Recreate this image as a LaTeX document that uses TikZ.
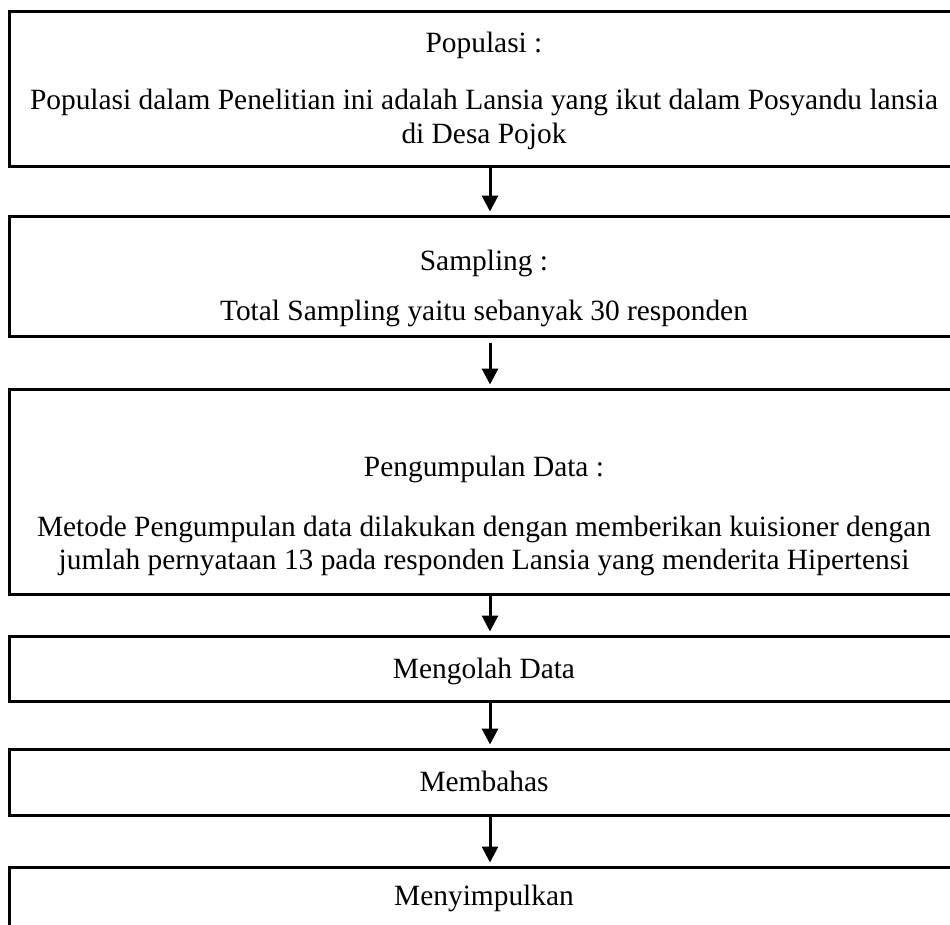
\documentclass[tikz,border=0pt]{standalone}
\usepackage{fontspec}
\setmainfont{Liberation Serif}
\usetikzlibrary{arrows.meta}

\tikzset{
  stagebox/.style={draw,line width=3pt,minimum width=953pt,inner sep=0pt},
  stagetext/.style={anchor=base,inner sep=0pt,font=\fontsize{29.4}{32}\selectfont},
  flowarrow/.style={line width=3pt,-{Triangle[width=16pt,length=16pt]},shorten >=3pt}
}

\begin{document}
\begin{tikzpicture}[x=1pt,y=-1pt]
  \useasboundingbox (0,0) rectangle (950,924);
  \clip (0,0) rectangle (950,924);
  % boxes
  \node [stagebox,minimum height=155pt] (pbox) at (485.5,88.5) {};
  \node [stagebox,minimum height=120pt] (sbox) at (485.5,276) {};
  \node [stagebox,minimum height=205pt] (kbox) at (485.5,491.5) {};
  \node [stagebox,minimum height=65pt] (obox) at (485.5,668.5) {};
  \node [stagebox,minimum height=66pt] (bbox) at (485.5,782) {};
  \node [stagebox,minimum height=73pt] (ybox) at (485.5,903.5) {};
  % texts
  \node [stagetext] (pop) at (484,52) {Populasi :};
  \node [stagetext] (popa) at (484,109) {Populasi dalam Penelitian ini adalah Lansia yang ikut dalam Posyandu lansia};
  \node [stagetext] (popb) at (484,143) {di Desa Pojok};
  \node [stagetext] (smp) at (484,270) {Sampling :};
  \node [stagetext] (smpa) at (484,320) {Total Sampling yaitu sebanyak 30 responden};
  \node [stagetext] (kum) at (484,476) {Pengumpulan Data :};
  \node [stagetext] (kuma) at (484,536) {Metode Pengumpulan data dilakukan dengan memberikan kuisioner dengan};
  \node [stagetext] (kumb) at (484,569) {jumlah pernyataan 13 pada responden Lansia yang menderita Hipertensi};
  \node [stagetext] (olah) at (484,678) {Mengolah Data};
  \node [stagetext] (bahas) at (484,791) {Membahas};
  \node [stagetext] (simpul) at (484,905) {Menyimpulkan};
  % arrows
  \coordinate (ax) at (490,0);
  \draw [flowarrow] (pbox.south -| ax) -- (sbox.north -| ax);
  \draw [flowarrow,shorten <=5pt] (sbox.south -| ax) -- (kbox.north -| ax);
  \draw [flowarrow] (kbox.south -| ax) -- (obox.north -| ax);
  \draw [flowarrow] (obox.south -| ax) -- (bbox.north -| ax);
  \draw [flowarrow] (bbox.south -| ax) -- (ybox.north -| ax);
\end{tikzpicture}
\end{document}
